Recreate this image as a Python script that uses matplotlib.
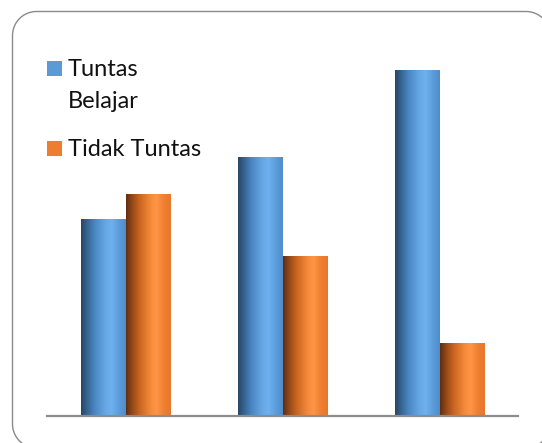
import numpy as np
import matplotlib
matplotlib.use("Agg")
import matplotlib.pyplot as plt
from matplotlib.patches import Rectangle, PathPatch
from matplotlib.path import Path
from matplotlib.colors import LinearSegmentedColormap

# ---------------- data ----------------
categories = ["Pra Siklus", "Siklus I", "Siklus II"]
series_names = ["Tuntas\nBelajar", "Tidak Tuntas"]
tuntas = [47.1, 62.0, 82.8]
tidak_tuntas = [52.9, 38.0, 17.2]

# ---------------- style ----------------
W, H = 542, 443
DPI = 100
blue_flat = "#5b9bd5"
orange_flat = "#ed7d31"
blue_cmap = LinearSegmentedColormap.from_list("b", [
    (0.00, "#284562"), (0.12, "#34608c"), (0.30, "#4a86c3"),
    (0.55, "#66a8e6"), (0.68, "#6eb1ee"), (0.85, "#5c9cda"), (1.00, "#4f8cc9")])
orange_cmap = LinearSegmentedColormap.from_list("o", [
    (0.00, "#5f2d10"), (0.12, "#8e4518"), (0.30, "#c9651f"),
    (0.55, "#f68a3a"), (0.68, "#ff9545"), (0.85, "#ef7f31"), (1.00, "#e5772c")])

plt.rcParams["font.family"] = ["Lato", "DejaVu Sans"]

fig = plt.figure(figsize=(W / DPI, H / DPI), dpi=DPI)

# overlay axes in pixel units (y downward) for frame + legend
ov = fig.add_axes([0, 0, 1, 1], zorder=0)
ov.set_xlim(0, W)
ov.set_ylim(H, 0)
ov.axis("off")

base_y = 415.5
top_y = 40.0
full_px = 416.0  # pixel height of 100 %
ax = fig.add_axes([47 / W, (H - base_y) / H, 471 / W, (base_y - top_y) / H], zorder=1)

x = np.arange(len(categories))
w = 0.2866
b1 = ax.bar(x - w / 2, tuntas, w, color="none", edgecolor="none")
b2 = ax.bar(x + w / 2, tidak_tuntas, w, color="none", edgecolor="none")

grad = np.linspace(0, 1, 256).reshape(1, -1)
for bars, cmap in ((b1, blue_cmap), (b2, orange_cmap)):
    for p in bars:
        x0, y0 = p.get_x(), p.get_y()
        ax.imshow(grad, cmap=cmap, aspect="auto", interpolation="bicubic",
                  extent=(x0, x0 + p.get_width(), y0, y0 + p.get_height()),
                  zorder=2)

ax.set_xlim(-0.5, len(categories) - 0.5)
ax.set_ylim(0, (base_y - top_y) / full_px * 100)
for s in ("top", "left", "right"):
    ax.spines[s].set_visible(False)
ax.spines["bottom"].set_color("#8c8c8c")
ax.spines["bottom"].set_linewidth(1.6)
ax.spines["bottom"].set_zorder(3)
ax.set_xticks([])
ax.set_yticks([])
ax.patch.set_alpha(0)

# rounded border (manual path, pixel units)
def rounded_rect(x0, y0, x1, y1, r, n=24):
    pts = []
    corners = [((x1 - r, y0 + r), -90, 0), ((x1 - r, y1 - r), 0, 90),
               ((x0 + r, y1 - r), 90, 180), ((x0 + r, y0 + r), 180, 270)]
    for (cx, cy), a0, a1 in corners:
        t = np.radians(np.linspace(a0, a1, n))
        pts.extend(zip(cx + r * np.cos(t), cy + r * np.sin(t)))
    pts.append(pts[0])
    return Path(np.array(pts))

ov.add_patch(PathPatch(rounded_rect(12.5, 11.5, 550, 448, 24),
                       facecolor="none", edgecolor="#8a8a8a",
                       linewidth=1.0, clip_on=False))

# legend
leg = [(series_names[0], blue_flat, 60.7, 59.0),
       (series_names[1], orange_flat, 140.7, 139.0)]
for label, col, sq_top, txt_top in leg:
    ov.add_patch(Rectangle((46.7, sq_top), 15, 15,
                           facecolor=col, edgecolor="none"))
    ov.text(67.5, txt_top, label, fontsize=17, color="#111111",
            va="top", ha="left", linespacing=1.62)

fig.savefig("out.png", dpi=DPI)
